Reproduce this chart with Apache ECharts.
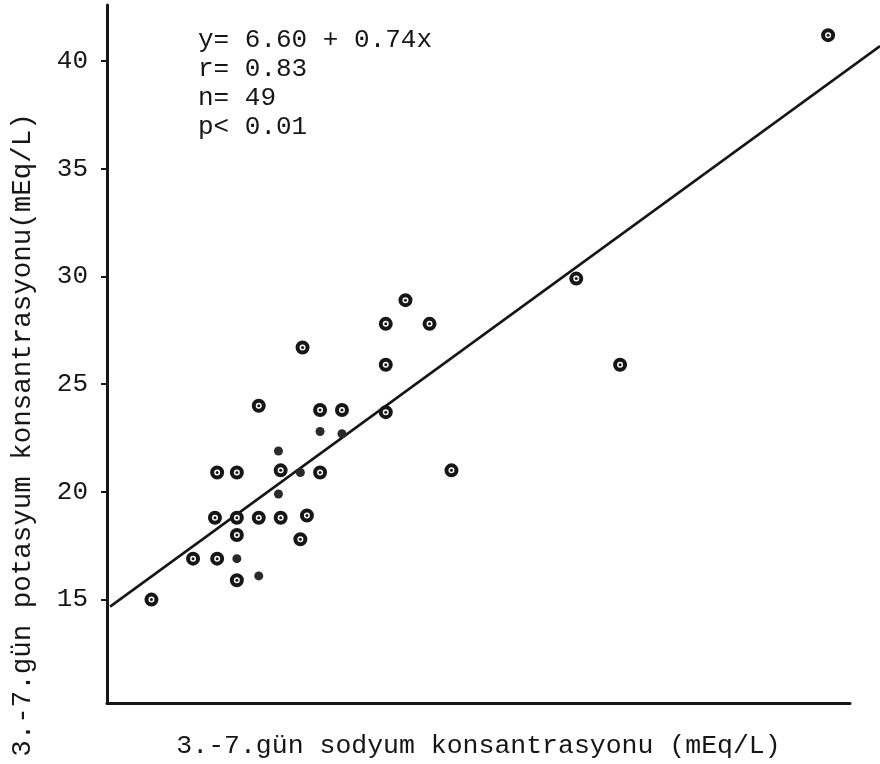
<!DOCTYPE html>
<html>
<head>
<meta charset="utf-8">
<script src="https://cdn.jsdelivr.net/npm/echarts@6/dist/echarts.min.js"></script>
<style>
  html, body { margin: 0; padding: 0; background: #fff; }
  #chart { width: 880px; height: 764px; }
</style>
</head>
<body>
<div id="chart"></div>
<script>
// okunan degerler (x: sodyum, y: potasyum)
var ringPoints = [
  [12.8, 15.0], [14.7, 16.9], [15.8, 16.9], [16.7, 15.9], [16.7, 18.0],
  [15.7, 18.8], [16.7, 18.8], [17.7, 18.8], [18.7, 18.8], [19.9, 18.9],
  [19.6, 17.8], [15.8, 20.9], [16.7, 20.9], [18.7, 21.0], [20.5, 20.9],
  [17.7, 24.0], [20.5, 23.8], [21.5, 23.8], [19.7, 26.7], [23.5, 27.8],
  [23.5, 25.9], [23.5, 23.7], [24.4, 28.9], [25.5, 27.8], [26.5, 21.0],
  [32.2, 29.9], [34.2, 25.9], [43.7, 41.2]
];
var dotPoints = [
  [16.7, 16.9], [17.7, 16.1], [18.6, 19.9], [18.6, 21.9],
  [19.6, 20.9], [20.5, 22.8], [21.5, 22.7]
];
// regresyon: y = 6.60 + 0.74x
var intercept = 6.60;
var slope = 0.74;
var lineX = [10.91, 46.07];
var yTicks = [15, 20, 25, 30, 35, 40];
var statLines = ['y= 6.60 + 0.74x', 'r= 0.83', 'n= 49', 'p< 0.01'];

var font = '"Liberation Mono", "DejaVu Sans Mono", monospace';
var ink = '#161616';

var lineData = [[lineX[0], intercept + slope * lineX[0], lineX[1], intercept + slope * lineX[1]]];

var chart = echarts.init(document.getElementById('chart'));
chart.setOption({
  animation: false,
  backgroundColor: '#fff',
  grid: { left: 107, right: 30, top: 5, bottom: 51, containLabel: false },
  xAxis: {
    type: 'value',
    min: 10.77,
    max: 44.7,
    name: '3.-7.gün sodyum konsantrasyonu (mEq/L)',
    nameLocation: 'middle',
    nameGap: 29,
    nameTextStyle: { fontFamily: font, fontSize: 26.5, color: ink },
    axisLine: { show: true, lineStyle: { color: ink, width: 3 } },
    axisTick: { show: false },
    axisLabel: { show: false },
    splitLine: { show: false }
  },
  yAxis: {
    type: 'value',
    min: 10.2,
    max: 42.6,
    axisLine: { show: true, lineStyle: { color: ink, width: 3 } },
    axisTick: { show: true, length: 6, lineStyle: { color: ink, width: 2 }, customValues: yTicks },
    axisLabel: { fontFamily: font, fontSize: 26, color: ink, margin: 19, customValues: yTicks },
    splitLine: { show: false }
  },
  graphic: [
    {
      type: 'text',
      x: 23,
      y: 435,
      rotation: Math.PI / 2,
      style: {
        text: '3.-7.gün potasyum konsantrasyonu(mEq/L)',
        font: '27.5px ' + font,
        fill: ink,
        textAlign: 'center',
        textVerticalAlign: 'middle'
      }
    },
    {
      type: 'text',
      x: 198,
      y: 26,
      style: {
        text: statLines.join('\n'),
        font: '26px ' + font,
        lineHeight: 29,
        fill: ink,
        textAlign: 'left',
        textVerticalAlign: 'top'
      }
    }
  ],
  series: [
    {
      type: 'custom',
      data: lineData,
      clip: false,
      silent: true,
      encode: { x: [0, 2], y: [1, 3] },
      renderItem: function (params, api) {
        var p0 = api.coord([api.value(0), api.value(1)]);
        var p1 = api.coord([api.value(2), api.value(3)]);
        return {
          type: 'line',
          shape: { x1: p0[0], y1: p0[1], x2: p1[0], y2: p1[1] },
          style: { stroke: ink, lineWidth: 2.5 }
        };
      }
    },
    {
      type: 'scatter',
      data: ringPoints,
      symbol: 'circle',
      symbolSize: 10,
      itemStyle: { color: '#fff', borderColor: ink, borderWidth: 4, opacity: 1 },
      z: 3
    },
    {
      type: 'scatter',
      data: ringPoints,
      symbol: 'circle',
      symbolSize: 3,
      itemStyle: { color: ink, opacity: 1 },
      z: 4
    },
    {
      type: 'scatter',
      data: dotPoints,
      symbol: 'circle',
      symbolSize: 9,
      itemStyle: { color: '#2a2a2a', opacity: 1 },
      z: 3
    }
  ]
});
</script>
</body>
</html>
